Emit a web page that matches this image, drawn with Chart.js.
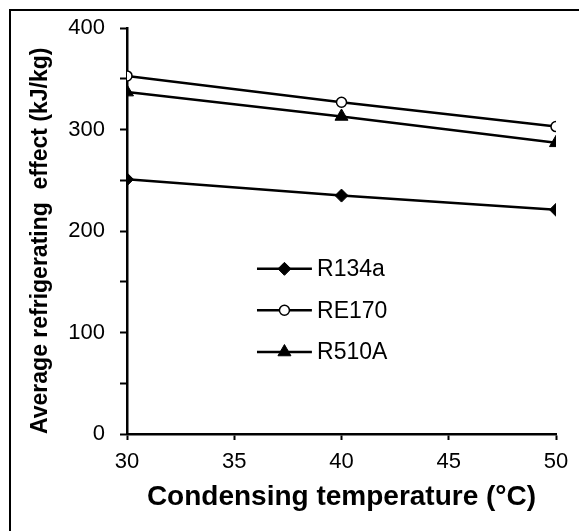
<!DOCTYPE html>
<html>
<head>
<meta charset="utf-8">
<script src="https://cdn.jsdelivr.net/npm/chart.js@4"></script>
<style>
  body { margin: 0; background: #fff; }
  #wrap { position: relative; width: 579px; height: 531px; overflow: hidden; }
  #frame { position: absolute; left: 9px; top: 9px; width: 700px; height: 700px;
           border-top: 2px solid #000; border-left: 2px solid #000; }
  #chart { position: absolute; left: 0; top: 0; }
</style>
</head>
<body>
<div id="wrap">
  <div id="frame"></div>
  <canvas id="chart" width="579" height="531"></canvas>
</div>
<script>
// condensing temperature (°C)
const temps = [30, 40, 50];
// average refrigerating effect (kJ/kg)
const r134a = [251, 235, 221];
const re170 = [353, 327, 303];
const r510a = [337, 313, 287];

const seriesNames = ["R134a", "RE170", "R510A"];

// legend drawn inside the plot, as fractions of the chart area
const legendPos = { x1: 0.303, x2: 0.431, tx: 0.443, rows: [0.593, 0.695, 0.798] };

const toPts = vals => temps.map((t, i) => ({ x: t, y: vals[i] }));

const inlineLegend = {
  id: "inlineLegend",
  afterDatasetsDraw(chart) {
    const { ctx, chartArea: a } = chart;
    const x1 = a.left + legendPos.x1 * a.width;
    const x2 = a.left + legendPos.x2 * a.width;
    const tx = a.left + legendPos.tx * a.width;
    ctx.save();
    chart.data.datasets.forEach((ds, i) => {
      const y = a.top + legendPos.rows[i] * a.height;
      ctx.strokeStyle = ds.borderColor;
      ctx.lineWidth = ds.borderWidth;
      ctx.beginPath();
      ctx.moveTo(x1, y);
      ctx.lineTo(x2, y);
      ctx.stroke();
      ctx.fillStyle = ds.pointBackgroundColor;
      ctx.strokeStyle = ds.pointBorderColor;
      ctx.lineWidth = ds.pointBorderWidth;
      Chart.helpers.drawPoint(ctx, {
        pointStyle: ds.pointStyle, radius: ds.pointRadius, rotation: 0, borderWidth: ds.pointBorderWidth
      }, (x1 + x2) / 2, y);
      ctx.fillStyle = "#000";
      ctx.font = "23px 'Liberation Sans', Arial, sans-serif";
      ctx.textBaseline = "middle";
      ctx.textAlign = "left";
      ctx.fillText(ds.label, tx, y + 1);
    });
    ctx.restore();
  }
};

const ctx = document.getElementById("chart").getContext("2d");

new Chart(ctx, {
  type: "line",
  data: {
    datasets: [
      {
        label: seriesNames[0],
        data: toPts(r134a),
        borderColor: "#000", borderWidth: 2.5,
        pointStyle: "rectRot", pointRadius: 6.5,
        pointBackgroundColor: "#000", pointBorderColor: "#000", pointBorderWidth: 1
      },
      {
        label: seriesNames[1],
        data: toPts(re170),
        borderColor: "#000", borderWidth: 2.5,
        pointStyle: "circle", pointRadius: 5,
        pointBackgroundColor: "#fff", pointBorderColor: "#000", pointBorderWidth: 1.5
      },
      {
        label: seriesNames[2],
        data: toPts(r510a),
        borderColor: "#000", borderWidth: 2.5,
        pointStyle: "triangle", pointRadius: 7.5,
        pointBackgroundColor: "#000", pointBorderColor: "#000", pointBorderWidth: 1
      }
    ]
  },
  options: {
    responsive: false,
    animation: false,
    devicePixelRatio: 1,
    layout: { padding: { left: 0, top: 24, right: 23, bottom: 0 } },
    plugins: {
      legend: { display: false },
      tooltip: { enabled: false }
    },
    scales: {
      x: {
        type: "linear",
        min: 30, max: 50,
        afterFit: s => { s.height = 97; },
        border: { display: true, color: "#000", width: 2.5 },
        grid: { drawOnChartArea: false, drawTicks: true, tickLength: 6, tickColor: "#000", tickWidth: 2 },
        ticks: {
          stepSize: 5, color: "#000", padding: 9, maxRotation: 0,
          font: { family: "'Liberation Sans', Arial, sans-serif", size: 22 }
        },
        title: {
          display: true,
          text: "Condensing temperature (°C)",
          color: "#000",
          padding: { top: 0, bottom: 17 },
          font: { family: "'Liberation Sans', Arial, sans-serif", size: 28, weight: "bold" }
        }
      },
      y: {
        min: 0, max: 400,
        afterFit: s => { s.width = 127; },
        border: { display: true, color: "#000", width: 2.5 },
        grid: { drawOnChartArea: false, drawTicks: true, tickLength: 7, tickColor: "#000", tickWidth: 2 },
        ticks: {
          stepSize: 50, color: "#000", padding: 15,
          callback: v => (v % 100 === 0 ? v : ""),
          font: { family: "'Liberation Sans', Arial, sans-serif", size: 22 }
        },
        title: {
          display: true,
          text: "Average refrigerating  effect (kJ/kg)",
          color: "#000",
          align: "start",
          padding: { top: 27, bottom: 0 },
          font: { family: "'Liberation Sans', Arial, sans-serif", size: 23, weight: "bold" }
        }
      }
    }
  },
  plugins: [inlineLegend]
});
</script>
</body>
</html>
